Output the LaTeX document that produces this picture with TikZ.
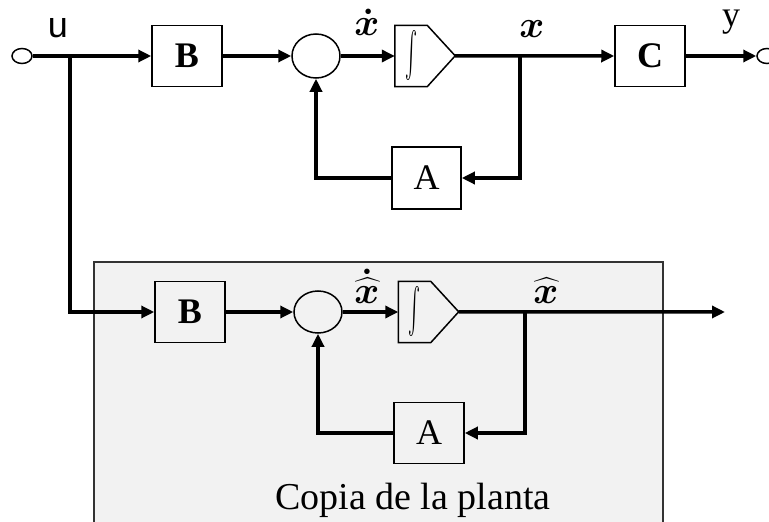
\RequirePackage{fix-cm}
\documentclass[tikz,border=0pt]{standalone}
\usepackage{amsmath}
\usepackage{graphicx}
\usepackage{fontspec}
\setmainfont{Liberation Serif}
\newfontfamily\labelsans{Liberation Sans}
\usetikzlibrary{arrows.meta,shapes.geometric}

\newcommand{\intsym}{\resizebox*{12pt}{50pt}{$\int$}}

\begin{document}
\begin{tikzpicture}[x=1pt,y=1pt,yscale=-1,
  blk/.style={draw,line width=1.5pt,minimum width=70pt,minimum height=61pt,inner sep=0pt,font=\fontsize{36}{40}\selectfont},
  sumnode/.style={draw,ellipse,line width=1.5pt,minimum width=48pt,minimum height=44pt,inner sep=0pt},
  port/.style={draw,ellipse,line width=1.5pt,minimum width=20pt,minimum height=15pt,inner sep=0pt},
  intnode/.style={minimum width=32pt,minimum height=61pt,inner sep=0pt},
  sig/.style={line width=3.5pt,-{Triangle[length=13pt,width=12pt]}},
  lbl/.style={inner sep=0pt,anchor=base,font=\fontsize{38}{42}\selectfont}]
\useasboundingbox (0,0) rectangle (769,522);

%Shape: Rectangle [plant copy]
\draw [fill={rgb,255:red,242;green,242;blue,242},draw={rgb,255:red,51;green,51;blue,51},line width=1.5pt] (94,262) rectangle (663,545);

%Top row: the plant
\node [port] (uin) at (22,56) {};
\coordinate (Ju) at (70,56);
\node [blk] (B1) at (187,56) {\textbf{B}};
\node [sumnode] (S1) at (316,56) {};
\node [intnode] (I1) at (411,56) {\intsym};
\draw [line width=1.5pt] (I1.north west) -- (I1.north east) -- ++(28,30.5) coordinate (I1tip) -- (I1.south east) -- (I1.south west) -- cycle;
\coordinate (J1) at (520,56);
\node [blk] (C) at (650,56) {\textbf{C}};
\node [port] (yout) at (767,56) {};
\node [blk,minimum width=69pt,minimum height=62pt] (A1) at (426.5,178) {A};

%Bottom row: the copy
\node [blk] (B2) at (190,312) {\textbf{B}};
\node [sumnode,minimum height=42pt] (S2) at (318,312) {};
\node [intnode] (I2) at (414.5,312) {\intsym};
\draw [line width=1.5pt] (I2.north west) -- (I2.north east) -- ++(28,30.5) coordinate (I2tip) -- (I2.south east) -- (I2.south west) -- cycle;
\coordinate (J2) at (525,312);
\coordinate (xout) at (725,312);
\node [blk] (A2) at (429,433) {A};

%Straight Lines
\draw [sig] (uin.east) -- (B1.west);
\draw [sig] (B1.east) -- (S1.west);
\draw [sig] (S1.east) -- (I1.west);
\draw [sig] (I1tip) -- (C.west);
\draw [sig] (C.east) -- (yout.west);
\draw [sig] (J1) |- (A1.east);
\draw [sig] (A1.west) -| (S1.south);
\draw [sig] (Ju) |- (B2.west);
\draw [sig] (B2.east) -- (S2.west);
\draw [sig] (S2.east) -- (I2.west);
\draw [sig] (I2tip) -- (xout);
\draw [sig] (J2) |- (A2.east);
\draw [sig] (A2.west) -| (S2.south);

% Text Node
\node [lbl,font=\fontsize{36}{40}\selectfont] (ulbl) at (58,37) {\labelsans u};
% Text Node
\node [lbl] (xdotlbl) at (367,35) {$\boldsymbol{\dot{x}}$};
% Text Node
\node [lbl] (xlbl) at (532,37) {$\boldsymbol{x}$};
% Text Node
\node [lbl,font=\fontsize{36}{40}\selectfont] (ylbl) at (731,27) {y};
% Text Node
\node [lbl] (xhdotlbl) at (367,303) {$\boldsymbol{\dot{\widehat{x}}}$};
% Text Node
\node [lbl] (xhlbl) at (546,303) {$\boldsymbol{\widehat{x}}$};
% Text Node
\node [lbl] (caption) at (413,509) {Copia de la planta};

\end{tikzpicture}
\end{document}
